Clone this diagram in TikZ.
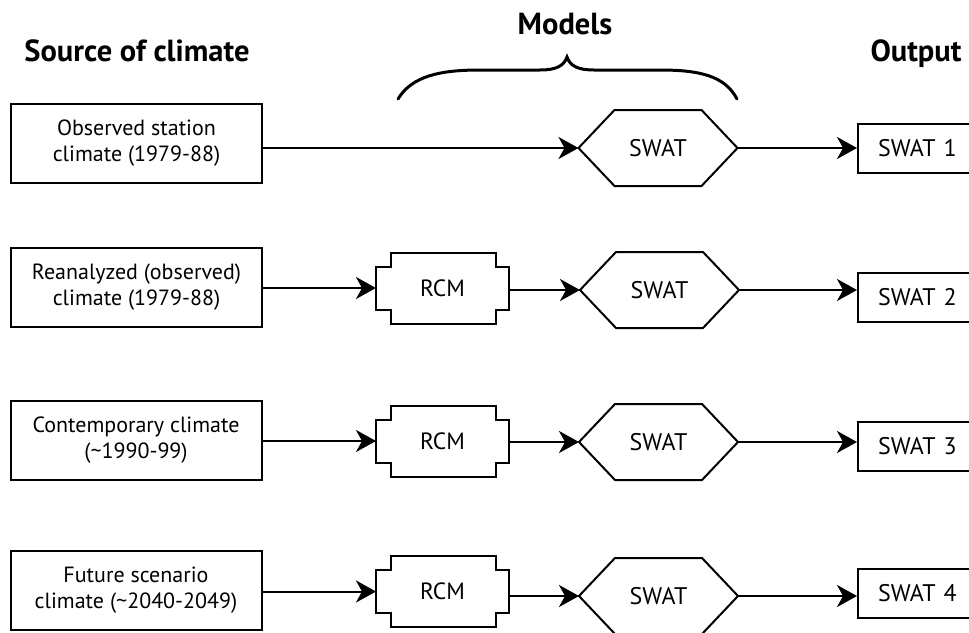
\documentclass[tikz,border=0pt]{standalone}
\usepackage{fontspec}
\setmainfont{PT Sans}
\usetikzlibrary{arrows.meta}
\newcommand{\drawhex}[1]{\draw[line join=miter] (#1.west) -- ([xshift=36pt]#1.north west) -- ([xshift=-36pt]#1.north east) -- (#1.east) -- ([xshift=-36pt]#1.south east) -- ([xshift=36pt]#1.south west) -- cycle;}
\newcommand{\drawrcm}[1]{\draw[line join=miter] ([xshift=15pt]#1.north west) -- ([xshift=-13pt]#1.north east) -- ([xshift=-13pt,yshift=-14pt]#1.north east) -- ([yshift=-14pt]#1.north east) -- ([yshift=14pt]#1.south east) -- ([xshift=-13pt,yshift=14pt]#1.south east) -- ([xshift=-13pt]#1.south east) -- ([xshift=15pt]#1.south west) -- ([xshift=15pt,yshift=14pt]#1.south west) -- ([yshift=14pt]#1.south west) -- ([yshift=-14pt]#1.north west) -- ([xshift=15pt,yshift=-14pt]#1.north west) -- cycle;}
\begin{document}
\begin{tikzpicture}[x=1pt,y=-1pt,line width=2pt,
  src/.style={draw, minimum width=251pt, minimum height=79pt, inner sep=0pt, align=center, font=\fontsize{22}{26}\selectfont},
  hexbox/.style={minimum width=157pt, minimum height=74pt, inner sep=0pt, font=\fontsize{24}{28}\selectfont},
  rcmbox/.style={minimum width=131pt, minimum height=69pt, inner sep=0pt, font=\fontsize{23.5}{28}\selectfont},
  outbox/.style={draw, anchor=west, minimum height=49pt, text width=100pt, inner xsep=20pt, inner ysep=0pt, align=left, font=\fontsize{24}{28}\selectfont},
  head/.style={anchor=base, font=\bfseries\fontsize{30.5}{34}\selectfont},
  arr/.style={-{Stealth[length=20pt,width=22pt,inset=6pt]}},
]
\useasboundingbox (0,0) rectangle (969,632);
\clip (0,0) rectangle (969,632);
\fill[white] (0,0) rectangle (969,632);

% headings
\node[head] (hsrc) at (137,61) {Source of climate};
\node[head] (hmod) at (565,34) {Models};
\node[head] (hout) at (916,61) {Output};

% brace
\coordinate (bl) at (398,99);
\coordinate (bt) at (567,57);
\coordinate (br) at (737,99);
\draw[line width=3pt, line cap=round] (bl) .. controls (412,76) and (440,70) .. (480,70) -- (540,70) .. controls (556,70) and (564,66) .. (bt)
  .. controls (570,66) and (578,70) .. (594,70) -- (660,70) .. controls (700,70) and (725,76) .. (br);

% row 1
\node[src] (src1) at (136.5,143) {Observed station\\climate (1979-88)};
\node[hexbox] (hex1) at (658,148) {SWAT};
\drawhex{hex1}
\node[outbox] (out1) at (857,148.5) {SWAT 1};
\draw[arr] (src1.east |- hex1.west) -- (hex1.west);
\draw[arr] (hex1.east) -- (out1.west |- hex1.east);

% row 2
\node[src] (src2) at (136.5,287.5) {Reanalyzed (observed)\\climate (1979-88)};
\node[rcmbox] (rcm2) at (442.5,288) {RCM};
\drawrcm{rcm2}
\node[hexbox] (hex2) at (659.5,290) {SWAT};
\drawhex{hex2}
\node[outbox] (out2) at (857,297.5) {SWAT 2};
\draw[arr] (src2.east |- rcm2.west) -- (rcm2.west);
\draw[arr] (rcm2.east |- hex2.west) -- (hex2.west);
\draw[arr] (hex2.east) -- (out2.west |- hex2.east);

% row 3
\node[src] (src3) at (136,440) {Contemporary climate\\(\textasciitilde1990-99)};
\node[rcmbox] (rcm3) at (442.5,441) {RCM};
\drawrcm{rcm3}
\node[hexbox] (hex3) at (658.5,442) {SWAT};
\drawhex{hex3}
\node[outbox] (out3) at (857,446) {SWAT 3};
\draw[arr] (src3.east |- rcm3.west) -- (rcm3.west);
\draw[arr] (rcm3.east |- hex3.west) -- (hex3.west);
\draw[arr] (hex3.east) -- (out3.west |- hex3.east);

% row 4
\node[src] (src4) at (136,590.5) {Future scenario\\climate (\textasciitilde2040-2049)};
\node[rcmbox] (rcm4) at (442.5,591.5) {RCM};
\drawrcm{rcm4}
\node[hexbox] (hex4) at (658.5,596) {SWAT};
\drawhex{hex4}
\node[outbox] (out4) at (857,593) {SWAT 4};
\draw[arr] (src4.east |- rcm4.west) -- (rcm4.west);
\draw[arr] (rcm4.east |- hex4.west) -- (hex4.west);
\draw[arr] (hex4.east) -- (out4.west |- hex4.east);
\end{tikzpicture}
\end{document}
